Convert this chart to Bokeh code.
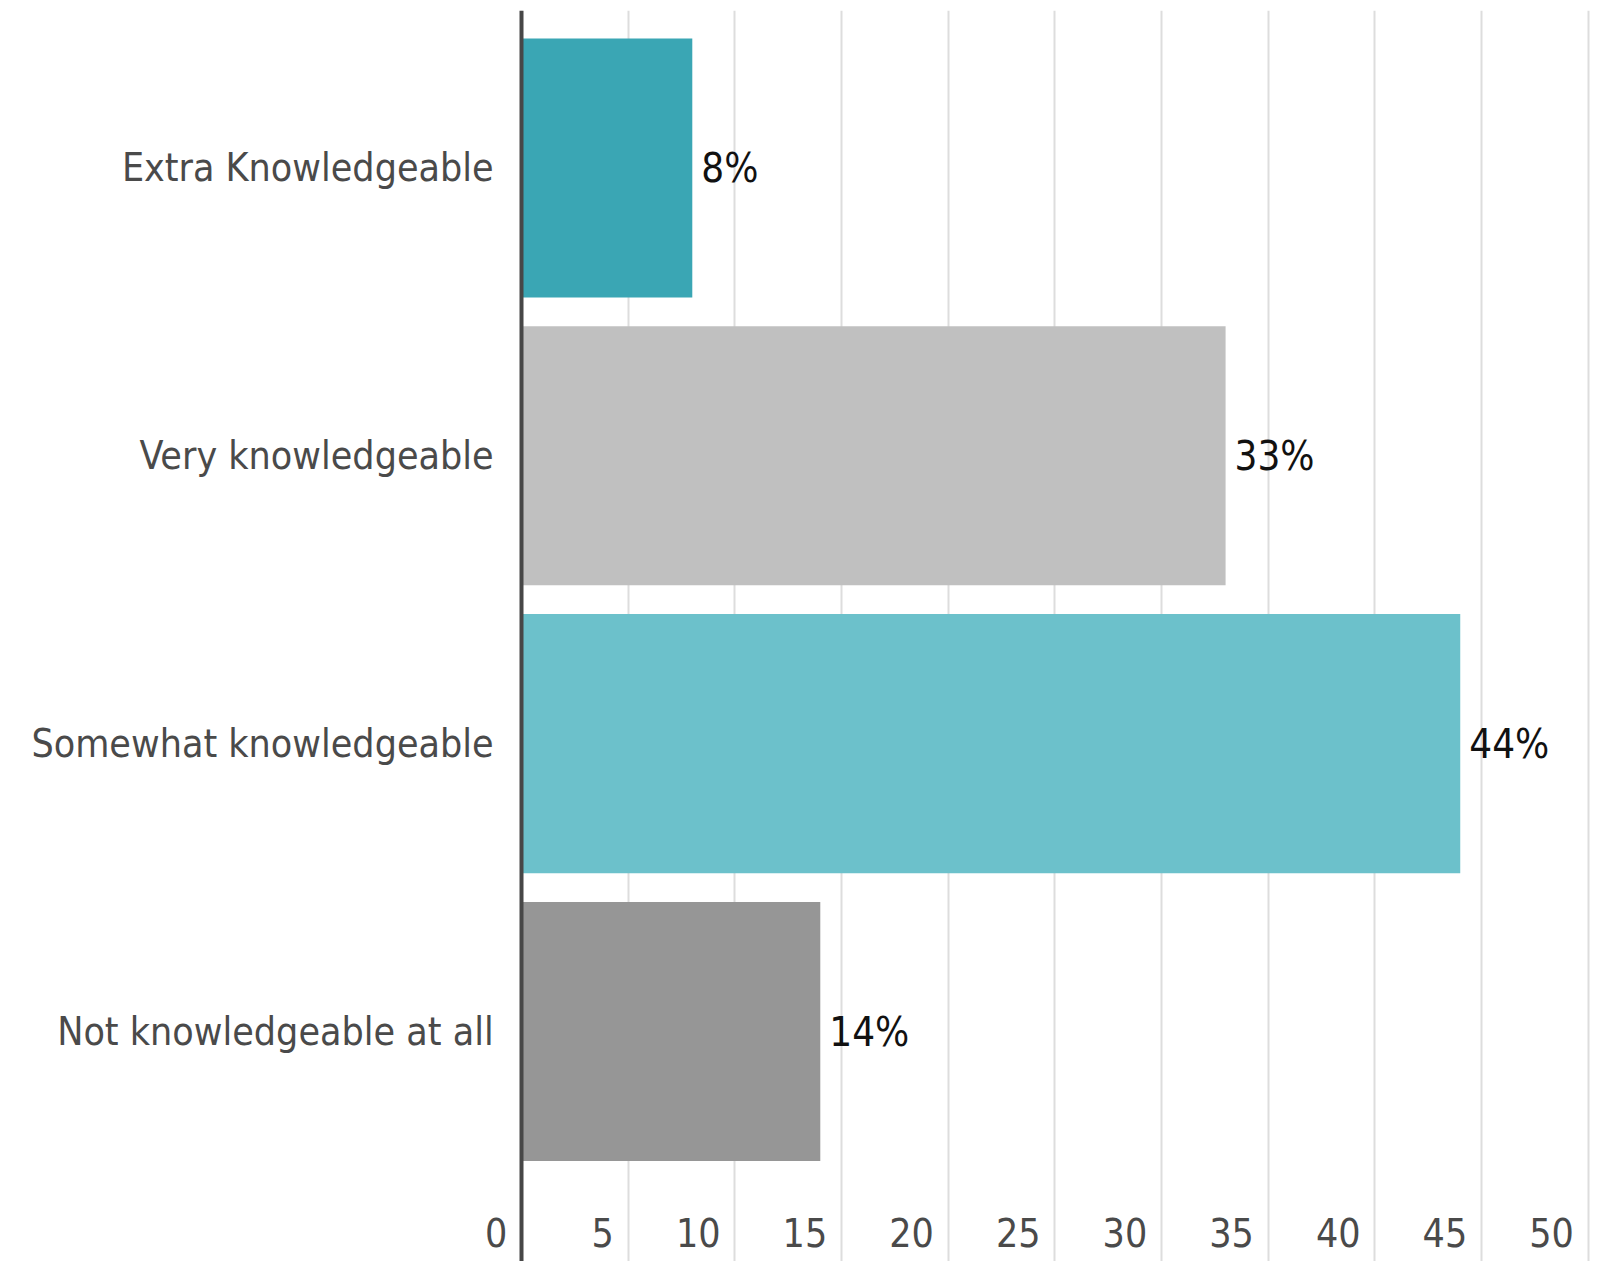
from bokeh.plotting import figure
from bokeh.models import Range1d, LinearAxis, FixedTicker, ColumnDataSource, Grid
from bokeh.core.properties import value
from bokeh.embed import file_html
from bokeh.resources import INLINE

# ---- data ----
categories = ["Extra Knowledgeable", "Very knowledgeable",
              "Somewhat knowledgeable", "Not knowledgeable at all"]
percent = [8, 33, 44, 14]
value_labels = ["8%", "33%", "44%", "14%"]
bar_colors = ["#3aa6b4", "#c0c0c0", "#6cc1cb", "#969696"]
x_ticks = [0, 5, 10, 15, 20, 25, 30, 35, 40, 45, 50]
x_tick_labels = ["0", "5", "10", "15", "20", "25", "30", "35", "40", "45", "50"]

ypos = [len(categories) - 1 - i for i in range(len(categories))]

FONT = "DejaVu Sans Condensed"
FS = "39px"
# tick labels end just left of their grid line (labels are drawn centred,
# so wider labels are moved a bit further left)
label_shift = [1.2 if len(l) == 1 else 1.72 for l in x_tick_labels]

src = ColumnDataSource(dict(y=ypos, v=percent, c=bar_colors, lab=value_labels))

p = figure(frame_width=1592, frame_height=1251,
           min_border_left=0, min_border_right=6,
           min_border_top=10, min_border_bottom=0,
           x_range=Range1d(-24.43, 50.2), y_range=Range1d(-0.799, 3.547),
           x_axis_location=None, y_axis_location=None,
           output_backend="svg", toolbar_location=None)

p.outline_line_color = None
p.background_fill_color = "white"
p.border_fill_color = "white"
for g in p.grid:
    g.visible = False

p.add_layout(Grid(dimension=0, ticker=FixedTicker(ticks=x_ticks),
                  grid_line_color="#dddddd", grid_line_width=2))

p.hbar(y="y", left=0, right="v", height=0.9, fill_color="c",
       line_color=None, source=src)

p.text(x="v", y="y", text="lab", x_offset=9, text_baseline="middle",
       text_align="left", text_font=value(FONT), text_font_size="40px",
       text_color="#111111", source=src)

# y axis (categories), its line drawn at x = 0
yax = LinearAxis(ticker=FixedTicker(ticks=ypos), fixed_location=0)
yax.major_label_overrides = {y: c for y, c in zip(ypos, categories)}
yax.axis_line_color = "#474747"
yax.axis_line_width = 4
yax.major_tick_line_color = None
yax.minor_tick_line_color = None
yax.major_label_standoff = 22
yax.major_label_text_font = FONT
yax.major_label_text_font_size = FS
yax.major_label_text_color = "#4a4a4a"
p.add_layout(yax, "left")

# x axis: value labels placed just left of each grid line
shifted = [t - s for t, s in zip(x_ticks, label_shift)]
xax = LinearAxis(ticker=FixedTicker(ticks=shifted), fixed_location=-0.612)
xax.major_label_overrides = {s: l for s, l in zip(shifted, x_tick_labels)}
xax.axis_line_color = None
xax.major_tick_line_color = None
xax.minor_tick_line_color = None
xax.major_label_standoff = 4
xax.major_label_text_font = FONT
xax.major_label_text_font_size = FS
xax.major_label_text_color = "#4a4a4a"
p.add_layout(xax, "below")

open("out.html", "w").write(file_html(p, INLINE))
